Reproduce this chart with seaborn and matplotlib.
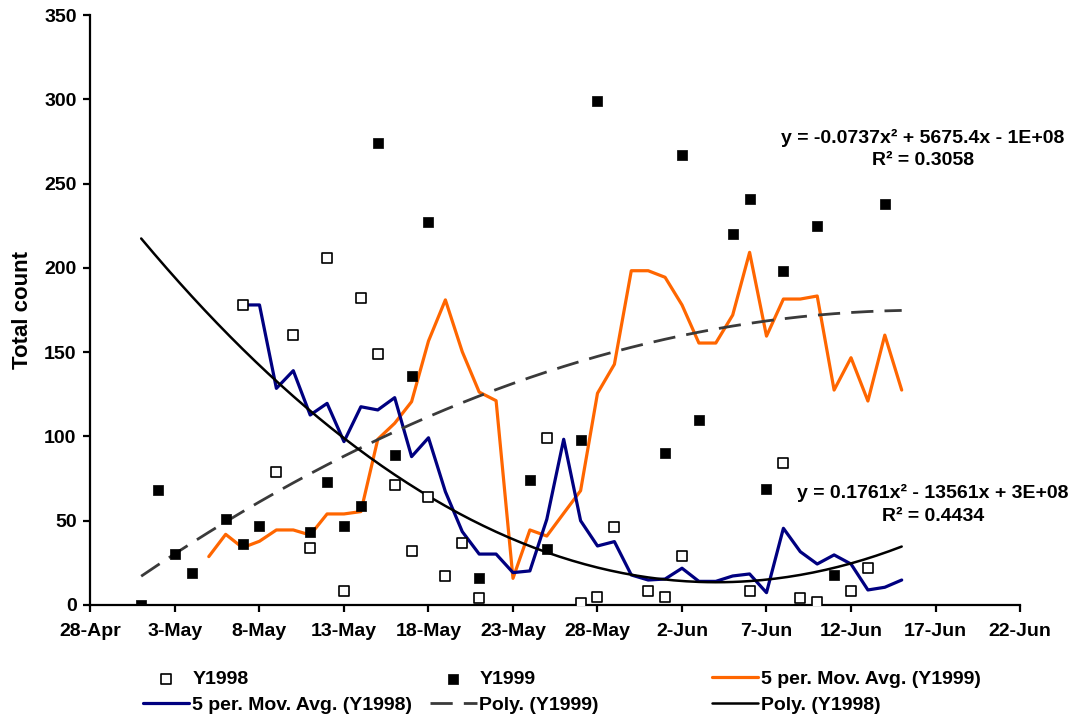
import numpy as np
import pandas as pd
import matplotlib
matplotlib.use("Agg")
import matplotlib.pyplot as plt
import matplotlib.dates as mdates
import seaborn as sns

# raw counts
y1998_dates = ['1999-05-07', '1999-05-09', '1999-05-10', '1999-05-11', '1999-05-12', '1999-05-13',
               '1999-05-14', '1999-05-15', '1999-05-16', '1999-05-17', '1999-05-18', '1999-05-19',
               '1999-05-20', '1999-05-21', '1999-05-25', '1999-05-27', '1999-05-28', '1999-05-29',
               '1999-05-31', '1999-06-01', '1999-06-02', '1999-06-06', '1999-06-08', '1999-06-09',
               '1999-06-10', '1999-06-12', '1999-06-13']
y1998_vals = [178, 79, 160, 34, 206, 8, 182, 149, 71, 32, 64, 17, 37, 4, 99, 1, 5, 46, 8, 5, 29,
              8, 84, 4, 2, 8, 22]

y1999_dates = ['1999-05-01', '1999-05-02', '1999-05-03', '1999-05-04', '1999-05-06', '1999-05-07',
               '1999-05-08', '1999-05-11', '1999-05-12', '1999-05-13', '1999-05-14', '1999-05-15',
               '1999-05-16', '1999-05-17', '1999-05-18', '1999-05-21', '1999-05-24', '1999-05-25',
               '1999-05-27', '1999-05-28', '1999-06-01', '1999-06-02', '1999-06-03', '1999-06-05',
               '1999-06-06', '1999-06-07', '1999-06-08', '1999-06-10', '1999-06-11', '1999-06-14']
y1999_vals = [0, 68, 30, 19, 51, 36, 47, 43, 73, 47, 59, 274, 89, 136, 227, 16, 74, 33, 98, 299,
              90, 267, 110, 220, 241, 69, 198, 225, 18, 238]

# moving average lines as drawn (5 period)
ma1998_start, ma1998_end = '1999-05-07', '1999-06-15'
ma1998_vals = [178, 178, 128.5, 139, 112.7, 119.6, 96.9, 117.6, 115.7, 123,
               88, 99.2, 67.2, 43.5, 30.2, 30.2, 19.2, 20.2, 50.8, 98.3,
               50, 35, 37.6, 17.8, 14.8,
               15.4, 21.8, 14, 14, 17.2, 18.4, 7.3, 45.5, 31.6, 24.3, 29.7, 24.3, 8.9, 10.5, 14.8]

ma1999_start, ma1999_end = '1999-05-05', '1999-06-15'
ma1999_vals = [28.7, 41.9, 34, 37.8, 44.5, 44.5, 41.5, 54, 54, 55.4,
               98.3, 107.8, 120.6, 156.6, 181, 150.2, 126.3, 121.2, 15.8, 44.5,
               40.9, 54.4, 67.8, 125.6, 142.8, 198.3, 198.3,
               194.4, 178, 155.4, 155.4, 172, 209.2, 159.5, 181.5, 181.5, 183.3, 127.5, 146.7, 121, 160.1, 127.5]

trend_start, trend_end = '1999-05-01', '1999-06-15'
eq1999 = 'y = -0.0737x² + 5675.4x - 1E+08\nR² = 0.3058'
eq1998 = 'y = 0.1761x² - 13561x + 3E+08\nR² = 0.4434'

df98 = pd.DataFrame({'date': pd.to_datetime(y1998_dates), 'count': y1998_vals})
df99 = pd.DataFrame({'date': pd.to_datetime(y1999_dates), 'count': y1999_vals})
ma98 = pd.DataFrame({'date': pd.date_range(ma1998_start, ma1998_end), 'count': ma1998_vals})
ma99 = pd.DataFrame({'date': pd.date_range(ma1999_start, ma1999_end), 'count': ma1999_vals})

# 2nd order polynomial trend lines
grid = pd.date_range(trend_start, trend_end, freq='6h')
gnum = mdates.date2num(grid)
p98 = np.polyfit(mdates.date2num(df98['date']), df98['count'], 2)
p99 = np.polyfit(mdates.date2num(df99['date']), df99['count'], 2)
tr98 = pd.DataFrame({'date': grid, 'count': np.polyval(p98, gnum)})
tr99 = pd.DataFrame({'date': grid, 'count': np.polyval(p99, gnum)})

sns.set_theme(style='white')
plt.rcParams['font.family'] = ['Liberation Sans', 'DejaVu Sans']
plt.rcParams['font.weight'] = 'bold'
plt.rcParams['text.color'] = 'black'
plt.rcParams['axes.labelcolor'] = 'black'
plt.rcParams['xtick.color'] = 'black'
plt.rcParams['ytick.color'] = 'black'

fig = plt.figure(figsize=(10.72, 7.19), dpi=100)
ax = fig.add_axes([0.0844, 0.1586, 0.8671, 0.8205])

sns.lineplot(data=ma99, x='date', y='count', color='#FF6600', lw=2.3, ax=ax,
             label='5 per. Mov. Avg. (Y1999)')
sns.lineplot(data=ma98, x='date', y='count', color='#000080', lw=2.3, ax=ax,
             label='5 per. Mov. Avg. (Y1998)')
sns.lineplot(data=tr99, x='date', y='count', color='#3a3a3a', lw=2.0, ax=ax,
             dashes=False, label='Poly. (Y1999)').lines[-1].set_dashes([8, 4])
sns.lineplot(data=tr98, x='date', y='count', color='black', lw=1.8, ax=ax,
             label='Poly. (Y1998)')
sns.scatterplot(data=df98, x='date', y='count', marker='s', s=50, facecolor='white',
                edgecolor='black', linewidth=1.2, ax=ax, label='Y1998', zorder=5)
sns.scatterplot(data=df99, x='date', y='count', marker='s', s=60, color='black',
                edgecolor='black', linewidth=0.5, ax=ax, label='Y1999', zorder=5)

x0 = pd.Timestamp('1999-04-28')
ax.set_xlim(mdates.date2num(x0), mdates.date2num(pd.Timestamp('1999-06-22')))
ax.set_ylim(0, 350)
ticks = pd.date_range('1999-04-28', '1999-06-22', freq='5D')
ax.set_xticks(mdates.date2num(ticks))
ax.set_xticklabels([f"{d.day}-{d.strftime('%b')}" for d in ticks])
ax.set_yticks(range(0, 351, 50))
ax.set_xlabel('')
ax.set_ylabel('Total count', fontsize=16, fontweight='bold', labelpad=8)

for s in ['top', 'right']:
    ax.spines[s].set_visible(False)
for s in ['left', 'bottom']:
    ax.spines[s].set_color('black')
    ax.spines[s].set_linewidth(1.6)
ax.tick_params(axis='both', direction='out', length=5, width=1.6, color='black',
               labelcolor='black', labelsize=14, pad=5, left=True, bottom=True)
ax.tick_params(axis='x', pad=8)
for lab in ax.get_xticklabels() + ax.get_yticklabels():
    lab.set_fontweight('bold')

ax.text(0.8957, 0.773, eq1999, transform=ax.transAxes, ha='center', va='center',
        fontsize=14, fontweight='bold', linespacing=1.45, color='black')
ax.text(0.9064, 0.171, eq1998, transform=ax.transAxes, ha='center', va='center',
        fontsize=14, fontweight='bold', linespacing=1.45, color='black')

h, l = ax.get_legend_handles_labels()
hd = dict(zip(l, h))
ax.get_legend().remove()
cols = [(['Y1998', '5 per. Mov. Avg. (Y1998)'], 0.133),
        (['Y1999', 'Poly. (Y1999)'], 0.401),
        (['5 per. Mov. Avg. (Y1999)', 'Poly. (Y1998)'], 0.664)]
for labs, xpos in cols:
    fig.legend([hd[k] for k in labs], labs, loc='upper left', bbox_to_anchor=(xpos, 0.068),
               frameon=False, handlelength=2.4, handletextpad=0.15,
               labelspacing=0.45, borderpad=0, borderaxespad=0, scatterpoints=1,
               labelcolor='black', prop={'weight': 'bold', 'size': 14})

fig.savefig('out.png', dpi=100)
